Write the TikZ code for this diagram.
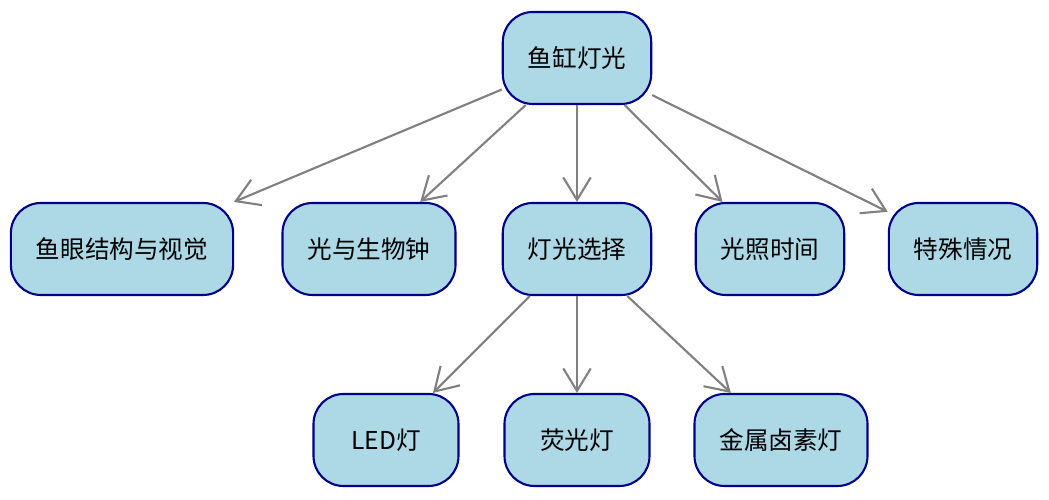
\documentclass[tikz,border=0pt]{standalone}
\usepackage{fontspec}
\setmainfont{Noto Sans CJK SC}
\usetikzlibrary{arrows.meta}

\definecolor{boxfill}{RGB}{173,216,230}
\definecolor{boxline}{RGB}{0,0,139}

\tikzset{
  topic/.style={draw=boxline, fill=boxfill, line width=1.2pt,
    rounded corners=0.6cm, minimum width=2.9cm, minimum height=1.84cm,
    inner xsep=0.5cm, font=\fontsize{14}{16}\selectfont},
  link/.style={draw=gray, line width=1.2pt,
    -{Straight Barb[length=0.45cm,width=0.55cm,line width=1.2pt]}}
}

\begin{document}
\begin{tikzpicture}
\useasboundingbox (0,0) rectangle (20.98,10);

\node[topic] (light) at (11.54, 8.84) {鱼缸灯光};

\node[topic] (eye)    at (2.44, 5.02)  {鱼眼结构与视觉};
\node[topic] (clock)  at (7.38, 5.02)  {光与生物钟};
\node[topic] (choice) at (11.54, 5.02) {灯光选择};
\node[topic] (time)   at (15.40, 5.02) {光照时间};
\node[topic] (special) at (19.26, 5.02) {特殊情况};

\node[topic] (led)   at (7.72, 1.2)  {LED灯};
\node[topic] (fluor) at (11.54, 1.2) {荧光灯};
\node[topic] (metal) at (15.62, 1.2) {金属卤素灯};

\foreach \t in {eye, clock, choice, time, special}
  \draw[link] (light) -- (\t);
\foreach \t in {led, fluor, metal}
  \draw[link] (choice) -- (\t);
\end{tikzpicture}
\end{document}
